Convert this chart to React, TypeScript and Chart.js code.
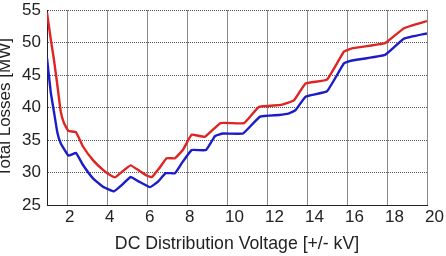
import { useEffect, useRef } from "react";
import { Chart, registerables } from "chart.js";

Chart.register(...registerables);

// Upper (red) curve
const redVoltage = [1.0, 1.185, 1.35, 1.515, 1.685, 1.85, 2.07, 2.45, 2.8, 3.3, 3.8, 4.15, 4.4, 4.75, 5.18, 5.6, 6.0, 6.25, 6.6, 6.98, 7.4, 7.8, 8.23, 8.9, 9.68, 10.85, 11.6, 12.7, 13.35, 13.93, 15.0, 15.85, 16.25, 17.9, 18.85, 20.0];
const redLosses = [54.6, 50.6, 47.3, 43.5, 39.4, 37.6, 36.4, 36.2, 34.0, 31.9, 30.4, 29.6, 29.25, 30.1, 31.1, 30.3, 29.5, 29.3, 30.6, 32.2, 32.2, 33.5, 35.8, 35.5, 37.6, 37.6, 40.1, 40.4, 41.1, 43.7, 44.3, 48.6, 49.1, 49.9, 52.2, 53.3];

// Lower (blue) curve
const blueVoltage = [1.0, 1.185, 1.35, 1.515, 1.685, 2.07, 2.45, 2.8, 3.3, 3.8, 4.35, 4.75, 5.18, 5.6, 6.15, 6.55, 6.93, 7.4, 7.73, 8.23, 8.95, 9.4, 9.8, 10.8, 11.65, 12.6, 13.1, 13.43, 13.93, 15.0, 15.85, 16.2, 17.9, 18.85, 20.0];
const blueLosses = [47.6, 42.4, 39.3, 36.2, 34.5, 32.6, 33.0, 31.15, 29.1, 27.8, 27.1, 28.1, 29.3, 28.6, 27.75, 28.6, 29.9, 29.9, 31.4, 33.45, 33.45, 35.6, 36.0, 36.0, 38.6, 38.85, 39.1, 39.6, 41.65, 42.5, 46.8, 47.2, 48.1, 50.6, 51.4];

const xTickValues = [2, 4, 6, 8, 10, 12, 14, 16, 18, 20];
const yTickValues = [25, 30, 35, 40, 45, 50, 55];

const xAxisTitle = "DC Distribution Voltage [+/- kV]";
const yAxisTitle = "Total Losses [MW]";

const FONT = "'Liberation Sans', Arial, Helvetica, sans-serif";
const TEXT = "#222";

export default function App() {
  const ref = useRef<HTMLCanvasElement>(null);

  useEffect(() => {
    const canvas = ref.current;
    if (!canvas) return;
    const chart = new Chart(canvas, {
      type: "line",
      data: {
        datasets: [
          {
            label: "Upper",
            data: redVoltage.map((x, i) => ({ x, y: redLosses[i] })),
            borderColor: "#e02424",
            borderWidth: 2.4,
            pointRadius: 0,
            tension: 0.1,
            fill: false,
          },
          {
            label: "Lower",
            data: blueVoltage.map((x, i) => ({ x, y: blueLosses[i] })),
            borderColor: "#1c1cc8",
            borderWidth: 2.4,
            pointRadius: 0,
            tension: 0.1,
            fill: false,
          },
        ],
      },
      options: {
        animation: false,
        responsive: false,
        devicePixelRatio: 1,
        layout: { padding: { left: 0, top: 10, right: 19, bottom: 0 } },
        plugins: {
          legend: { display: false },
          tooltip: { enabled: false },
        },
        scales: {
          x: {
            type: "linear",
            min: 1,
            max: 20,
            afterBuildTicks: (scale: any) => {
              scale.ticks = xTickValues.map((v) => ({ value: v }));
            },
            afterFit: (scale: any) => {
              scale.height = 51;
              scale.paddingLeft = 0;
              scale.paddingRight = 0;
            },
            ticks: {
              align: "start",
              labelOffset: -2,
              padding: 2,
              color: TEXT,
              font: { family: FONT, size: 17 },
              maxRotation: 0,
              autoSkip: false,
            },
            grid: { color: "#8a8a8a", lineWidth: 1, drawTicks: false },
            border: { display: true, color: "#222", width: 1 },
            title: {
              display: true,
              text: xAxisTitle,
              color: TEXT,
              font: { family: FONT, size: 17.7 },
              padding: { top: 0, bottom: 1 },
            },
          },
          y: {
            type: "linear",
            min: 25,
            max: 55,
            afterBuildTicks: (scale: any) => {
              scale.ticks = yTickValues.map((v) => ({ value: v }));
            },
            afterFit: (scale: any) => {
              scale.width = 47;
              scale.paddingTop = 0;
              scale.paddingBottom = 0;
            },
            ticks: {
              padding: 6,
              color: TEXT,
              font: { family: FONT, size: 17 },
              autoSkip: false,
            },
            grid: { color: "#555", lineWidth: 1, drawTicks: false },
            border: { display: true, color: "#222", width: 1, dash: [1, 1] },
            title: {
              display: true,
              text: yAxisTitle,
              color: TEXT,
              font: { family: FONT, size: 17, lineHeight: 0.65 },
              padding: { top: 0, bottom: 0 },
            },
          },
        },
      },
    });
    return () => chart.destroy();
  }, []);

  return (
    <div
      style={{
        position: "absolute",
        left: 0,
        top: 0,
        width: 446,
        height: 256,
        background: "#fff",
      }}
    >
      <canvas ref={ref} width={446} height={256} style={{ display: "block" }} />
    </div>
  );
}
